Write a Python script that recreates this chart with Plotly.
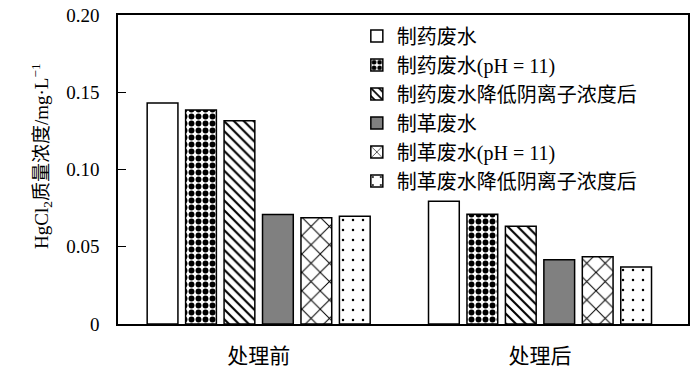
import plotly.graph_objects as go

categories = ["处理前", "处理后"]
series_names = ["制药废水", "制药废水(pH = 11)", "制药废水降低阴离子浓度后",
                "制革废水", "制革废水(pH = 11)", "制革废水降低阴离子浓度后"]
values = [
    [0.143, 0.0794],
    [0.1385, 0.0710],
    [0.1316, 0.0632],
    [0.0708, 0.0416],
    [0.0688, 0.0436],
    [0.0697, 0.0369],
]
ytick_vals = [0, 0.05, 0.10, 0.15, 0.20]
ytick_text = ["0", "0.05", "0.10", "0.15", "0.20"]
y_title = "HgCl<sub>2</sub>质量浓度/mg·L<sup>−1</sup>"

styles = [
    dict(color="white", pattern=dict(shape="")),
    dict(color="white", pattern=dict(shape=".", size=7, solidity=0.55, fgcolor="black", fillmode="replace")),
    dict(color="white", pattern=dict(shape="\\", size=7, solidity=0.3, fgcolor="black", fillmode="replace")),
    dict(color="#808080", pattern=dict(shape="")),
    dict(color="white", pattern=dict(shape="x", size=13, solidity=0.15, fgcolor="black", fillmode="replace")),
    dict(color="white", pattern=dict(shape=".", size=10, solidity=0.05, fgcolor="black", fillmode="replace")),
]

FONT = "Liberation Serif, Times New Roman, Noto Sans CJK SC"

fig = go.Figure()
for i, (name, vals) in enumerate(zip(series_names, values)):
    st = styles[i]
    fig.add_trace(go.Bar(
        x=categories, y=vals, name=name, legendgroup=f"g{i}",
        marker=dict(color=st["color"], pattern=st["pattern"],
                    line=dict(color="black", width=1.5)),
    ))

fig.update_layout(
    width=700, height=376,
    margin=dict(l=118, r=12, t=15, b=52, autoexpand=False),
    paper_bgcolor="white", plot_bgcolor="white",
    barmode="group", bargap=0.18, bargroupgap=0.2,
    font=dict(family=FONT, size=19, color="black"),
    showlegend=True,
    legend=dict(x=0.419, y=0.995, xanchor="left", yanchor="top",
                bgcolor="rgba(0,0,0,0)", tracegroupgap=0,
                font=dict(family=FONT, size=20)),
    xaxis=dict(range=[-0.5, 1.526], showline=True, linecolor="black", linewidth=1.5,
               mirror=True, ticks="", showgrid=False, automargin=False,
               ticklabelstandoff=12, ticklabeloverflow="allow",
               tickfont=dict(family=FONT, size=21)),
    yaxis=dict(range=[0, 0.2], showline=True, linecolor="black", linewidth=1.5,
               mirror=True, ticks="inside", ticklen=8, tickwidth=1, tickcolor="black",
               tickvals=ytick_vals, ticktext=ytick_text, showgrid=False, zeroline=False,
               automargin=False, ticklabelstandoff=13, ticklabeloverflow="allow",
               tickfont=dict(family=FONT, size=19)),
    annotations=[dict(text=y_title, textangle=-90, xref="paper", yref="paper",
                      x=-0.1333, y=0.544, xanchor="center", yanchor="middle",
                      showarrow=False, font=dict(family=FONT, size=19))],
)

fig.write_html("out.html", config={"displayModeBar": False},
               post_script="document.body.style.margin='0';")
